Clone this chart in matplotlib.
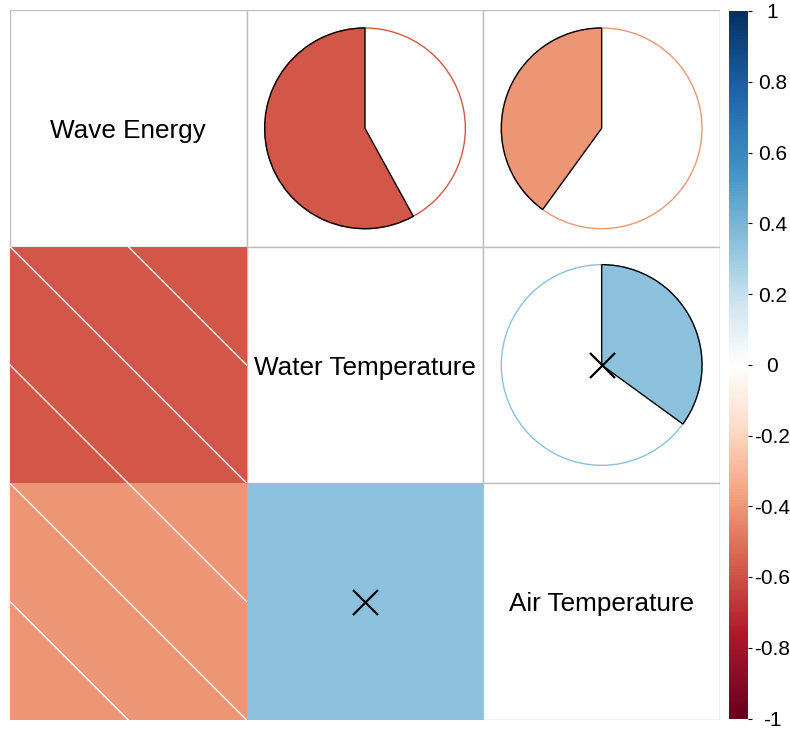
import numpy as np
import matplotlib
matplotlib.use("Agg")
import matplotlib.pyplot as plt
from matplotlib.colors import LinearSegmentedColormap, Normalize
from matplotlib.patches import Rectangle, Wedge, Circle
from matplotlib.cm import ScalarMappable

plt.rcParams["font.family"] = ["Liberation Sans", "DejaVu Sans"]

# Variables and their pairwise correlations
variables = ["Wave Energy", "Water Temperature", "Air Temperature"]
corr = np.array([
    [1.00, -0.58, -0.40],
    [-0.58, 1.00, 0.35],
    [-0.40, 0.35, 1.00],
])
# Pairs whose correlation is not significant (crossed out)
insignificant = np.array([
    [False, False, False],
    [False, False, True],
    [False, True, False],
])
cbar_ticks = [-1, -0.8, -0.6, -0.4, -0.2, 0, 0.2, 0.4, 0.6, 0.8, 1]

# Red-blue diverging palette with its anchor values
rdbu = ["#67001F", "#B2182B", "#D6604D", "#F4A582", "#FDDBC7", "#FFFFFF",
        "#D1E5F0", "#92C5DE", "#4393C3", "#2166AC", "#053061"]
anchors = [-1.0, -0.76, -0.56, -0.36, -0.18, 0.0,
           0.17, 0.33, 0.55, 0.76, 1.0]
cmap = LinearSegmentedColormap.from_list(
    "corr_rdbu", [((a + 1) / 2, c) for a, c in zip(anchors, rdbu)], N=256)
norm = Normalize(vmin=-1, vmax=1)

W, H = 790, 729
fig = plt.figure(figsize=(W / 100, H / 100), dpi=100)
ax = fig.add_axes([10 / W, (H - 720) / H, 710 / W, 710 / H])
n = len(variables)
ax.set_xlim(0, n)
ax.set_ylim(0, n)
ax.axis("off")

grid_col = "#BEBEBE"

for i in range(n):
    for j in range(n):
        x0 = j
        y0 = n - 1 - i
        cx, cy = x0 + 0.5, y0 + 0.5
        v = corr[i, j]
        col = cmap(norm(v))
        if i == j:
            ax.add_patch(Rectangle((x0, y0), 1, 1, facecolor="white",
                                   edgecolor=grid_col, lw=1, zorder=1))
            ax.text(cx, cy - 0.011, variables[i], ha="center", va="center",
                    fontsize=18.8, zorder=5)
        elif j > i:
            # upper triangle: pie
            ax.add_patch(Rectangle((x0, y0), 1, 1, facecolor="white",
                                   edgecolor=grid_col, lw=1, zorder=1))
            r = 0.424
            ax.add_patch(Circle((cx, cy), r, facecolor="white",
                                edgecolor=col, lw=1, zorder=2))
            if v < 0:
                t1, t2 = 90, 90 + 360 * abs(v)
            else:
                t1, t2 = 90 - 360 * v, 90
            ax.add_patch(Wedge((cx, cy), r, t1, t2, facecolor=col,
                               edgecolor="black", lw=1, zorder=3))
        else:
            # lower triangle: shaded square
            rect = Rectangle((x0, y0), 1, 1, facecolor=col,
                             edgecolor="none", zorder=3)
            ax.add_patch(rect)
            if v < 0:
                clip = Rectangle((x0, y0), 1, 1, transform=ax.transData)
                for c in (0.5, 1.0, 1.5):
                    s = x0 + y0 + c
                    xs = np.array([x0 - 1, x0 + 2])
                    ln, = ax.plot(xs, s - xs, color="white", lw=1, zorder=4)
                    ln.set_clip_path(clip)
        if insignificant[i, j]:
            ax.plot(cx, cy, marker="x", color="black", markersize=18,
                    mew=1.6, zorder=6)

# colour legend
cax = fig.add_axes([729 / W, (H - 718.5) / H, 19 / W, 707.5 / H])
sm = ScalarMappable(norm=norm, cmap=cmap)
cb = fig.colorbar(sm, cax=cax, ticks=cbar_ticks)
cb.outline.set_visible(False)
cax.tick_params(axis="y", direction="out", length=3, width=0.8,
                labelsize=15, pad=14.5)
cax.set_yticklabels([f"{t:g}" for t in cbar_ticks])
for lab in cax.get_yticklabels():
    lab.set_horizontalalignment("center")

fig.savefig("out.png", dpi=100)
